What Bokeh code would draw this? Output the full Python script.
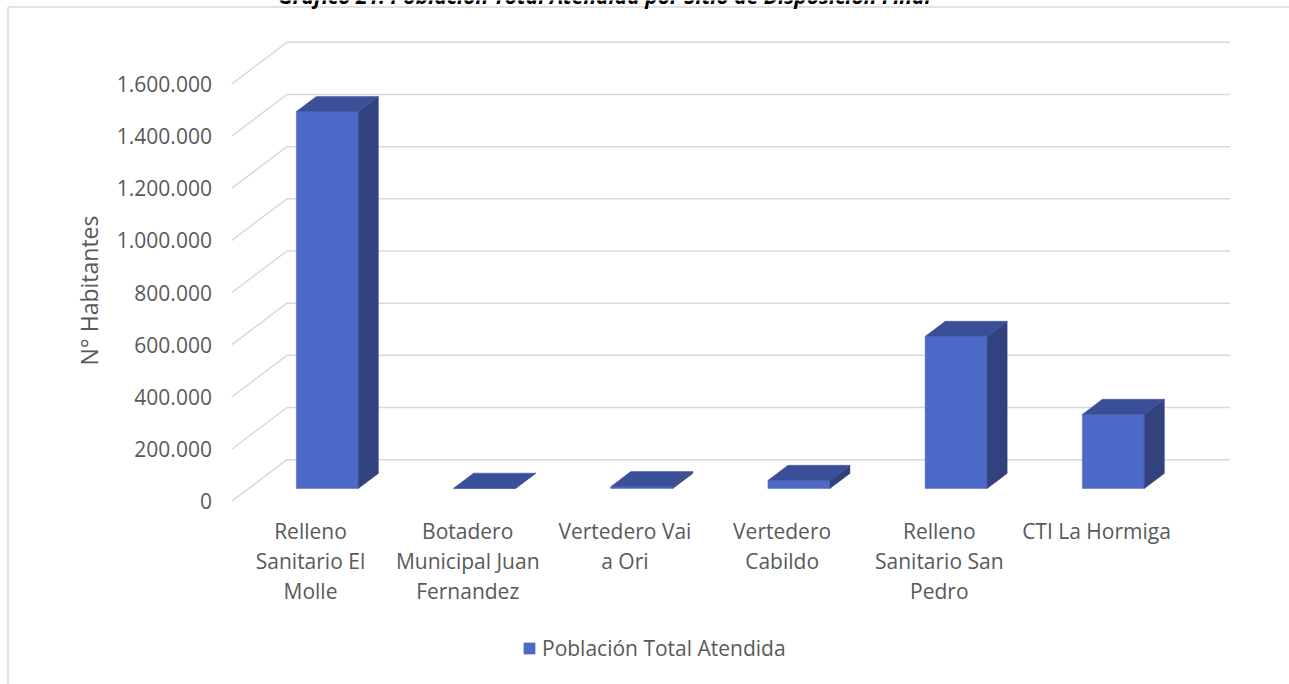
import math
from bokeh.plotting import figure
from bokeh.models import Range1d, Legend, LegendItem
from bokeh.core.properties import value
from bokeh.embed import file_html
from bokeh.resources import INLINE

# ---------------- data ----------------
title_text = "Gráfico 21: Población Total Atendida por Sitio de Disposición Final"
series_name = "Población Total Atendida"
y_title = "N° Habitantes"
categories = [
    "Relleno Sanitario El Molle",
    "Botadero Municipal Juan Fernandez",
    "Vertedero Vai a Ori",
    "Vertedero Cabildo",
    "Relleno Sanitario San Pedro",
    "CTI La Hormiga",
]
category_labels = [
    "Relleno\nSanitario El\nMolle",
    "Botadero\nMunicipal Juan\nFernandez",
    "Vertedero Vai\na Ori",
    "Vertedero\nCabildo",
    "Relleno\nSanitario San\nPedro",
    "CTI La Hormiga",
]
poblacion = [1445000, 1000, 7000, 31000, 583000, 284000]
y_ticks = [0, 200000, 400000, 600000, 800000, 1000000, 1200000, 1400000, 1600000]
y_tick_labels = ["0", "200.000", "400.000", "600.000", "800.000",
                 "1.000.000", "1.200.000", "1.400.000", "1.600.000"]

# ---------------- layout / style ----------------
W, H = 1289, 684
CAT_PX = 157.2                 # px per category on the front plane
VAL_PX = 417.4 / 1600000.0     # px per unit value
X0_PX = 310.0                  # canvas x of category 0 (front plane)
Y0_PX = 500.7                  # canvas y of value 0 (front plane)
DX = 55.0 / CAT_PX             # full depth shift (x, data units)
DY = 41.5 / VAL_PX             # full depth shift (y, data units)
F0 = 0.306                     # depth where bars start
FB = 0.364                     # bar depth
BAR_W = 62.0 / CAT_PX

FRONT = "#4C69C8"
TOPC = "#3A4F98"
SIDE = "#32427E"
GRID = "#D9D9D9"
TXT = "#595959"
FONT = "Open Sans"

n = len(categories)
x_range = Range1d(-X0_PX / CAT_PX, (W - X0_PX) / CAT_PX)
y_range = Range1d((Y0_PX - H) / VAL_PX, Y0_PX / VAL_PX)

p = figure(width=W, height=H, x_range=x_range, y_range=y_range,
           output_backend="svg", toolbar_location=None, min_border=0,
           x_axis_type=None, y_axis_type=None)
p.outline_line_color = None
p.background_fill_color = "white"
p.border_fill_color = "white"

def px_x(dpx):
    return dpx / CAT_PX

def px_y(dpx):
    return dpx / VAL_PX

# ---- chart box (top & left border) ----
top_y = y_range.end - px_y(6.5)
left_x = x_range.start + px_x(7.5)
p.segment(x0=[left_x], y0=[top_y], x1=[x_range.end], y1=[top_y],
          line_color=GRID, line_width=1.5)
p.segment(x0=[left_x], y0=[top_y], x1=[left_x], y1=[y_range.start],
          line_color=GRID, line_width=1.5)

# ---- title (cut at the top as in the source) ----
p.text(x=[x_range.start + px_x(604)], y=[y_range.end + px_y(5)], text=[title_text],
       text_font=value(FONT), text_font_size="21px", text_font_style="bold italic",
       text_color="#000000", text_align="center", text_baseline="alphabetic")

# ---- 3D walls gridlines ----
wl = -0.5
wr = n - 0.5
p.segment(x0=[wl] * len(y_ticks), y0=y_ticks,
          x1=[wl + DX] * len(y_ticks), y1=[t + DY for t in y_ticks],
          line_color=GRID, line_width=1.5)
p.segment(x0=[wl + DX] * len(y_ticks), y0=[t + DY for t in y_ticks],
          x1=[wr + DX] * len(y_ticks), y1=[t + DY for t in y_ticks],
          line_color=GRID, line_width=1.5)

# ---- bars ----
xc = [i + F0 * DX for i in range(n)]
base = F0 * DY
tops = [v + base for v in poblacion]
front = p.vbar(x=xc, bottom=base, top=tops, width=BAR_W,
               fill_color=FRONT, line_color=FRONT, line_width=0.5)

side_xs, side_ys, top_xs, top_ys = [], [], [], []
for c, t in zip(xc, tops):
    L, R = c - BAR_W / 2, c + BAR_W / 2
    side_xs.append([R, R + FB * DX, R + FB * DX, R])
    side_ys.append([base, base + FB * DY, t + FB * DY, t])
    top_xs.append([L, R, R + FB * DX, L + FB * DX])
    top_ys.append([t, t, t + FB * DY, t + FB * DY])
p.patches(side_xs, side_ys, fill_color=SIDE, line_color=SIDE, line_width=0.5)
p.patches(top_xs, top_ys, fill_color=TOPC, line_color=TOPC, line_width=0.5)

# ---- y tick labels ----
p.text(x=[wl - px_x(20)] * len(y_ticks), y=y_ticks, text=y_tick_labels,
       text_font=value(FONT), text_font_size="21px", text_color=TXT,
       text_align="right", text_baseline="middle")

# ---- y axis title ----
p.text(x=[wl - px_x(143)], y=[px_y(500.7 - 290)], text=[y_title],
       text_font=value(FONT), text_font_size="23px", text_color=TXT,
       text_align="center", text_baseline="middle", angle=math.pi / 2)

# ---- category labels ----
p.text(x=list(range(n)), y=[0] * n, text=category_labels, y_offset=16,
       text_font=value(FONT), text_font_size="21px", text_color=TXT,
       text_align="center", text_baseline="top", text_line_height=1.07)

# ---- legend ----
legend = Legend(items=[LegendItem(label=series_name, renderers=[front])],
                location=(522, 22), orientation="horizontal",
                glyph_width=14, glyph_height=14, label_standoff=6,
                label_text_font=FONT, label_text_font_size="21px",
                label_text_color=TXT, border_line_color=None,
                background_fill_alpha=0, padding=0, margin=0)
p.add_layout(legend)

open("out.html", "w").write(file_html(p, INLINE))
